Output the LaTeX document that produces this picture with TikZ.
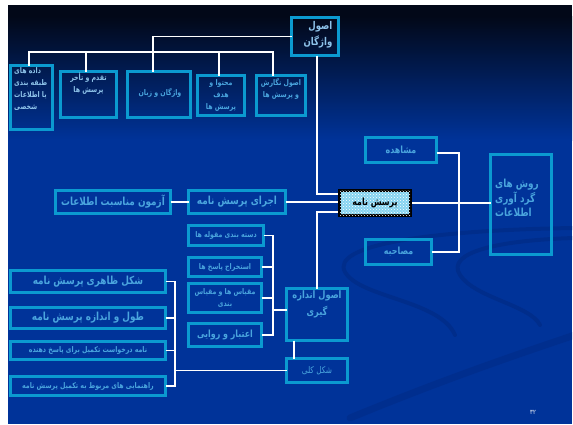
\documentclass[tikz,border=0pt]{standalone}
\usepackage{fontspec}
\usetikzlibrary{patterns}
\TeXXeTstate=1
\newfontfamily\arabicfont[Script=Arabic, FakeStretch=0.8]{DejaVu Sans}
\newcommand{\fa}[1]{{\arabicfont\beginR #1\endR}}
\definecolor{slideblue}{HTML}{003399}
\definecolor{slidetop}{HTML}{020818}
\definecolor{swooshcol}{HTML}{002C88}
\definecolor{boxcol}{HTML}{0B9AD0}
\definecolor{txtcol}{HTML}{4AA5DE}
\definecolor{txtlight}{HTML}{8EC3EA}
\definecolor{pqfill}{HTML}{86D3F0}
\begin{document}
\begin{tikzpicture}[x=1pt,y=-1pt,
  box/.style={draw=boxcol, line width=3pt, inner sep=0pt, outer sep=0pt},
  conn/.style={draw=white, line width=1.8pt},
  lab/.style={text=txtcol, inner sep=0pt, align=center},
  fsmall/.style={font=\fontsize{7.8}{12}\selectfont\bfseries},
  fmid/.style={font=\fontsize{9.9}{14}\selectfont\bfseries},
  fbig/.style={font=\fontsize{11.1}{14.5}\selectfont\bfseries},
  swoosh/.style={draw=swooshcol, line width=4pt, line cap=round, opacity=0.8}
]
\useasboundingbox (0,0) rectangle (573,424);
% background
\fill[white] (0,0) rectangle (573,424);
\fill[slidetop] (8,5) rectangle (572,16);
\shade[top color=slidetop, bottom color=slideblue] (8,16) rectangle (572,140);
\fill[slideblue] (8,140) rectangle (572,424);
\begin{scope}
\clip (8,140) rectangle (572,424);
\draw[swoosh] (575,228) .. controls (430,230) and (330,245) .. (345,272) .. controls (360,298) and (440,300) .. (455,335);
\draw[swoosh] (575,238) .. controls (500,240) and (445,252) .. (460,275) .. controls (475,298) and (530,305) .. (540,325);
\draw[swoosh, line width=7pt, opacity=0.6] (350,418) .. controls (430,385) and (500,360) .. (575,335);
\end{scope}

% top boxes
\node[box, minimum width=47pt, minimum height=38pt] (vaj) at (315,36.5) {};
\node[lab, text=txtlight, align=right, font=\fontsize{10.7}{16}\selectfont\bfseries] (tvaj) at (318,35) {\fa{اصول}\\\fa{واژگان}};
\node[box, minimum width=42pt, minimum height=64pt] (dade) at (31.5,97.5) {};
\node[lab, text=txtlight, align=left, fsmall, anchor=north west] (tdade) at (14,67) {\fa{داده های}\\\fa{طبقه بندی}\\\fa{یا اطلاعات}\\\fa{شخصی}};
\node[box, minimum width=56pt, minimum height=46pt] (taq) at (88.5,94.5) {};
\node[lab, text=txtlight, fsmall] (ttaq) at (88.5,84) {\fa{تقدم و تأخر}\\\fa{پرسش ها}};
\node[box, minimum width=63pt, minimum height=46pt] (zab) at (159,94.5) {};
\node[lab, fsmall] (tzab) at (160,93) {\fa{واژگان و زبان}};
\node[box, minimum width=47pt, minimum height=40pt] (moh) at (221,95.5) {};
\node[lab, fsmall] (tmoh) at (221,95) {\fa{محتوا و}\\\fa{هدف}\\\fa{پرسش ها}};
\node[box, minimum width=49pt, minimum height=40pt] (neg) at (281,95.5) {};
\node[lab, fsmall] (tneg) at (281,89) {\fa{اصول نگارش}\\\fa{و پرسش ها}};

% right side
\node[box, minimum width=71pt, minimum height=25pt, lab, fmid] (mosh) at (401,150) {\fa{مشاهده}};
\node[box, minimum width=66pt, minimum height=25pt, lab, fmid] (mos) at (398.5,252) {\fa{مصاحبه}};
\node[box, minimum width=61pt, minimum height=100pt] (ravesh) at (521,204.5) {};
\node[lab, align=left, fbig, anchor=north west] (travesh) at (495,179) {\fa{روش های}\\\fa{گرد آوری}\\\fa{اطلاعات}};

% central
\node[draw=black, line width=3pt, inner sep=0pt, minimum width=71pt, minimum height=25pt,
      fill=pqfill, postaction={pattern=crosshatch dots, pattern color=white},
      font=\fontsize{9.9}{10}\selectfont\bfseries, text=black] (pq) at (375,203) {\fa{پرسش نامه}};

% middle row
\node[box, minimum width=97pt, minimum height=23pt, lab, fbig] (ejra) at (237,202) {\fa{اجرای پرسش نامه}};
\node[box, minimum width=115pt, minimum height=23pt, lab, fbig] (azm) at (113,202) {\fa{آزمون مناسبت اطلاعات}};

% measurement column
\node[box, minimum width=75pt, minimum height=20pt, lab, fsmall] (dasteh) at (226,235.5) {\fa{دسته بندی مقوله ها}};
\node[box, minimum width=73pt, minimum height=19pt, lab, fsmall] (estx) at (225,267) {\fa{استخراج پاسخ ها}};
\node[box, minimum width=73pt, minimum height=29pt, lab, fsmall] (miq) at (225,298) {\fa{مقیاس ها و مقیاس}\\\fa{بندی}};
\node[box, minimum width=73pt, minimum height=23pt, lab, fmid] (etb) at (225,335) {\fa{اعتبار و روایی}};
\node[box, minimum width=61pt, minimum height=52pt] (andaz) at (317,314.5) {};
\node[lab, font=\fontsize{10.3}{17}\selectfont\bfseries] (tandaz) at (317,304.5) {\fa{اصول اندازه}\\\fa{گیری}};
\node[box, minimum width=61pt, minimum height=24pt, lab, font=\fontsize{9.2}{9}\selectfont] (kolli) at (317,370.5) {\fa{شکل کلی}};

% left column
\node[box, minimum width=155pt, minimum height=22pt, lab, fbig] (shekl) at (88,281.5) {\fa{شکل ظاهری پرسش نامه}};
\node[box, minimum width=155pt, minimum height=21pt, lab, fbig] (tul) at (88,318) {\fa{طول و اندازه پرسش نامه}};
\node[box, minimum width=155pt, minimum height=18pt, lab, fsmall] (nameh) at (88,350.5) {\fa{نامه درخواست تکمیل برای پاسخ دهنده}};
\node[box, minimum width=155pt, minimum height=19pt, lab, fsmall] (rah) at (88,386) {\fa{راهنمایی های مربوط به تکمیل پرسش نامه}};

\node[text=white, inner sep=0pt, font=\fontsize{6.5}{6}\selectfont] (pg) at (533,412) {\fa{۳۲}};

% connectors: top tree
\coordinate (bar) at (0,52);
\coordinate (d1) at ([xshift=-2.5pt]dade.north);
\coordinate (d2) at ([xshift=-2.5pt]taq.north);
\coordinate (d3) at ([xshift=-6pt]zab.north);
\coordinate (d4) at ([xshift=-2pt]moh.north);
\coordinate (d5) at ([xshift=-8pt]neg.north);
\draw[conn] (vaj.west) -| (d3);
\draw[conn] (d1) |- (bar -| d5) -- (d5);
\draw[conn] (d2) -- (d2 |- bar);
\draw[conn] (d4) -- (d4 |- bar);
% central
\draw[conn] ([xshift=2pt]vaj.south) |- ([yshift=9pt]pq.west);
\draw[conn] (ejra.east) -- (ejra.east -| pq.west);
\draw[conn] (azm.east) -- (ejra.west);
\draw[conn] ([yshift=-9pt]pq.west) -| (andaz.north);
\draw[conn] (pq.east) -- (pq.east -| ravesh.west);
\coordinate (rb) at (459,203);
\draw[conn] ([yshift=-3pt]mosh.east) -| (rb);
\draw[conn] (mos.east) -| (rb);
% measurement bracket
\coordinate (xb) at (273,0);
\coordinate (mb) at (273,310);
\draw[conn] (dasteh.east) -| (xb |- etb.east) -- (etb.east);
\draw[conn] (estx.east) -- (estx.east -| xb);
\draw[conn] (miq.east) -- (miq.east -| xb);
\draw[conn] (mb) -- (mb -| andaz.west);
\coordinate (ak) at (294,0);
\draw[conn] (andaz.south -| ak) -- (kolli.north -| ak);
% left bracket
\coordinate (lb) at (175,0);
\draw[conn] (shekl.east) -| (lb |- rah.east) -- (rah.east);
\draw[conn] (tul.east) -- (tul.east -| lb);
\draw[conn] (nameh.east) -- (nameh.east -| lb);
\draw[conn] (lb |- kolli.west) -- (kolli.west);
\end{tikzpicture}
\end{document}
